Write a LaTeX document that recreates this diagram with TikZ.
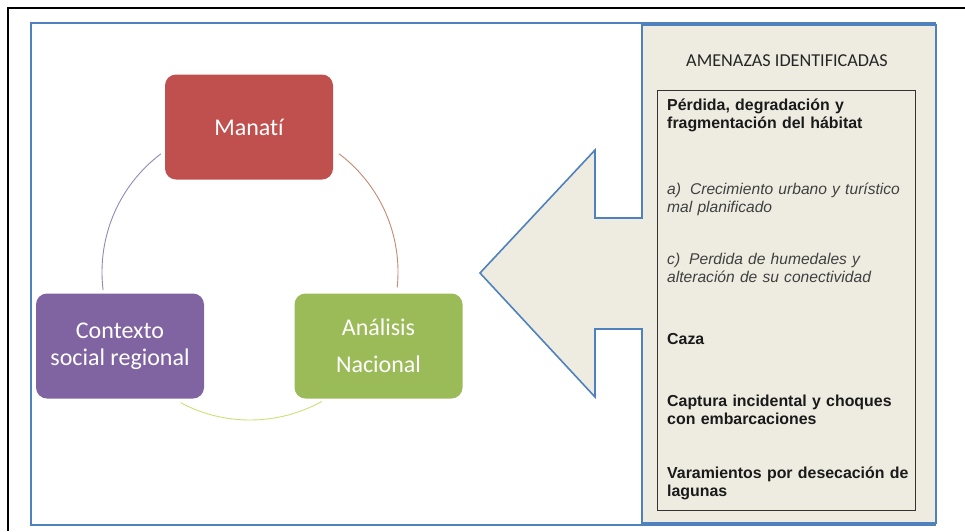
\documentclass[tikz,border=0pt]{standalone}
\usepackage{fontspec}
\setmainfont{Liberation Sans}
\newfontfamily\calfont[Ligatures={NoCommon,NoRequired,NoContextual}]{Carlito}
\definecolor{frameblue}{HTML}{4F81BD}
\definecolor{panelbg}{HTML}{EEECE1}
\definecolor{boxred}{HTML}{C0504D}
\definecolor{boxpurple}{HTML}{8064A2}
\definecolor{boxgreen}{HTML}{9BBB59}
\definecolor{itemgray}{HTML}{404040}
\definecolor{textdark}{HTML}{1A1A1A}
\tikzset{
  cyclebox/.style={rounded corners=11pt, minimum width=168pt, minimum height=105pt,
    text=white, align=center, inner sep=0pt,
    font=\calfont\fontsize{24}{27}\selectfont},
  itembold/.style={anchor=base west, inner sep=0pt, text width=275pt, align=left,
    text=textdark, font=\bfseries\fontsize{15.9}{18.5}\selectfont},
  itemital/.style={anchor=base west, inner sep=0pt, text width=275pt, align=left,
    text=itemgray, font=\itshape\fontsize{15.6}{18.5}\selectfont},
  arcline/.style={line width=0.9pt}
}
\begin{document}
\begin{tikzpicture}[x=1pt,y=-1pt]
\useasboundingbox (0,0) rectangle (965,531);
% outer black frame
\draw[line width=2.5pt, black] (8,531) -- (8,8) -- (965,8);
% blue frame
\draw[line width=2pt, frameblue] (936,23) -- (31,23) -- (31,525) -- (936,525);
% panel with arrow
\draw[line width=1.6pt, frameblue, fill=panelbg]
  (642,25) -- (642,218) -- (595,218) -- (595,150) -- (480,273) -- (595,397)
  -- (595,329) -- (642,329) -- (642,523) -- (936,523) -- (936,25) -- cycle;
% inner box
\draw[line width=1pt, black!80] (657,90) rectangle (915,510);
% title
\node[anchor=base, inner sep=0pt, text=black!85, font=\calfont\fontsize{18.2}{20}\selectfont]
  (title) at (787,66) {AMENAZAS IDENTIFICADAS};
% items
\node[itembold] (i1) at (667,110) {Pérdida, degradación y\\fragmentación del hábitat};
\node[itemital] (i2) at (667,194) {a)\hspace{9pt}Crecimiento urbano y turístico\\mal planificado};
\node[itemital] (i3) at (667,264) {c)\hspace{9pt}Perdida de humedales y\\alteración de su conectividad};
\node[itembold] (i4) at (667,344) {Caza};
\node[itembold] (i5) at (667,406) {Captura incidental y choques\\con embarcaciones};
\node[itembold] (i6) at (667,478) {Varamientos por desecación de\\lagunas};
% cycle
\coordinate (c) at (250,272);
\draw[arcline, color=boxred!75!boxgreen!80!white] (c) ++(-53:148) arc[start angle=-53, end angle=6, radius=148];
\draw[arcline, color=boxpurple!80!frameblue!80!white] (c) ++(173:148) arc[start angle=173, end angle=233, radius=148];
\draw[arcline, color=boxgreen!70!yellow!70!white] (c) ++(61:148) arc[start angle=61, end angle=118, radius=148];
\node[cyclebox, fill=boxred] (m) at (249,127) {Manatí};
\node[cyclebox, fill=boxpurple] (ctx) at (120,346) {Contexto\\social regional};
\node[cyclebox, fill=boxgreen] (an) at (378.5,346) {Análisis\\[10pt]Nacional};
\end{tikzpicture}
\end{document}
